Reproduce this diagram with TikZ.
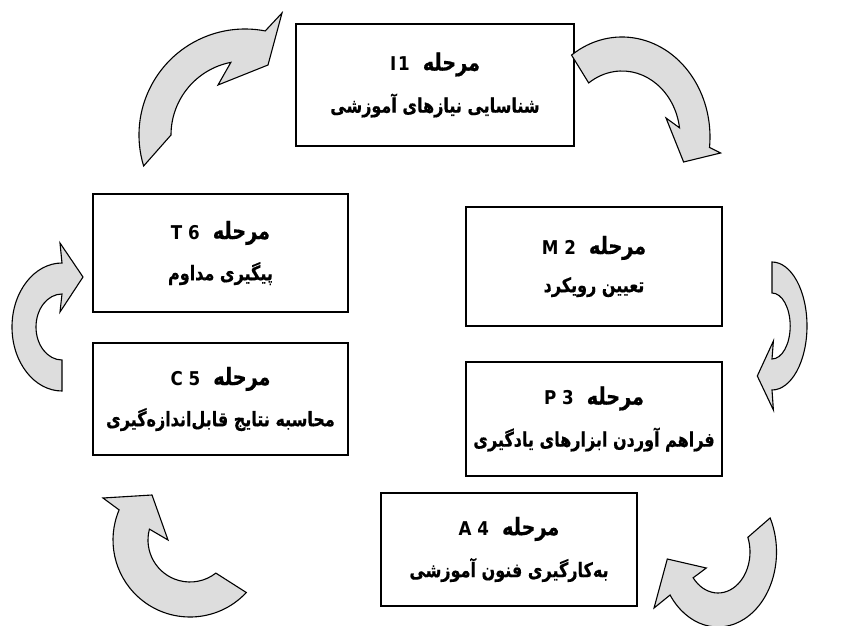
\documentclass[tikz,border=0pt]{standalone}
\usepackage{fontspec}
\TeXXeTstate=1
\newfontfamily\fa[Script=Arabic, FakeStretch=0.8, BoldFeatures={FakeBold=0.5}]{DejaVu Sans}
\newfontfamily\la[FakeStretch=0.88]{DejaVu Sans}
\definecolor{arrowgray}{HTML}{DDDDDD}
\newcommand{\stagehead}[1]{{\la\bfseries\fontsize{19}{20}\selectfont #1}\hspace{13pt}{\fa\bfseries\fontsize{24}{24}\selectfont\beginR مرحله\endR}}
\newcommand{\stagename}[1]{{\fa\bfseries\fontsize{20}{20}\selectfont\beginR #1\endR}}
\begin{document}
\begin{tikzpicture}[x=1pt,y=1pt,
  stagebox/.style={draw=black, line width=2.8pt, fill=white, rectangle, inner sep=0pt, align=center,
    font=\bfseries},
  arrowbody/.style={draw=black, line width=1.1pt, fill=arrowgray, line join=miter}]
\useasboundingbox (0,0) rectangle (849,625);
\fill[white] (0,0) rectangle (849,625);

% boxes
\node[stagebox, minimum width=278pt, minimum height=122pt] (s1) at (435,540)
  {\stagehead{I\hspace{2pt}1}\\[16pt]\stagename{شناسایی نیازهای آموزشی}};
\node[stagebox, minimum width=256pt, minimum height=119pt] (s2) at (594,358.5)
  {\stagehead{M 2}\\[16pt]\stagename{تعیین رویکرد}};
\node[stagebox, minimum width=256pt, minimum height=114pt] (s3) at (594,206)
  {\stagehead{P 3}\\[16pt]\stagename{فراهم آوردن ابزارهای یادگیری}};
\node[stagebox, minimum width=256pt, minimum height=113pt] (s4) at (509,75.5)
  {\stagehead{A 4}\\[16pt]\stagename{به‌کارگیری فنون آموزشی}};
\node[stagebox, minimum width=255pt, minimum height=112pt] (s5) at (220.5,226)
  {\stagehead{C 5}\\[16pt]\stagename{محاسبه نتایج قابل‌اندازه‌گیری}};
\node[stagebox, minimum width=255pt, minimum height=118pt] (s6) at (220.5,372)
  {\stagehead{T 6}\\[16pt]\stagename{پیگیری مداوم}};

% curved block arrows
% A: T6 -> I1
\begin{scope}[shift={(245,490)}]
\draw[arrowbody] (197:106pt) arc[start angle=197,end angle=79,radius=106pt]
  -- (37,122) -- (23,70) -- (-27,50) -- (101:74pt)
  arc[start angle=101,end angle=180,radius=74pt] -- cycle;
\end{scope}
% B: I1 -> M2
\begin{scope}[shift={(622,488)}, xscale=0.88]
\draw[arrowbody] (125:100pt) arc[start angle=125,end angle=-6,radius=100pt]
  -- (112,-16) -- (70,-25) -- (50,19) -- (8:66pt)
  arc[start angle=8,end angle=125,radius=66pt] -- cycle;
\end{scope}
% C: M2 -> P3
\begin{scope}[shift={(772,299)}, rotate=180, xscale=0.7]
\draw[arrowbody] (0,-64) arc[start angle=-90,end angle=-270,x radius=50pt,y radius=64pt]
  -- (-2,84) -- (21,50) -- (-2,15) -- (0,33)
  arc[start angle=90,end angle=270,x radius=26pt,y radius=33pt] -- cycle;
\end{scope}
% D: P3 -> A4
\begin{scope}[shift={(718,73)}, xscale=0.78]
\draw[arrowbody] (27:75pt) arc[start angle=27,end angle=-145,radius=75pt]
  -- (-82,-56) -- (-65,-7) -- (-15,-16) -- (-141:41pt)
  arc[start angle=-141,end angle=21,radius=41pt] -- cycle;
\end{scope}
% E: A4 -> C5
\begin{scope}[shift={(190,85)}]
\draw[arrowbody] (-43:77pt) arc[start angle=-43,end angle=-203,radius=77pt]
  -- (-87,42) -- (-38,45) -- (-22,0) -- (-195:42pt)
  arc[start angle=-195,end angle=-52,radius=42pt] -- cycle;
\end{scope}
% F: C5 -> T6
\begin{scope}[shift={(62,298)}]
\draw[arrowbody] (0,-64) arc[start angle=-90,end angle=-270,x radius=50pt,y radius=64pt]
  -- (-2,84) -- (21,50) -- (-2,15) -- (0,33)
  arc[start angle=90,end angle=270,x radius=26pt,y radius=33pt] -- cycle;
\end{scope}
\end{tikzpicture}
\end{document}
